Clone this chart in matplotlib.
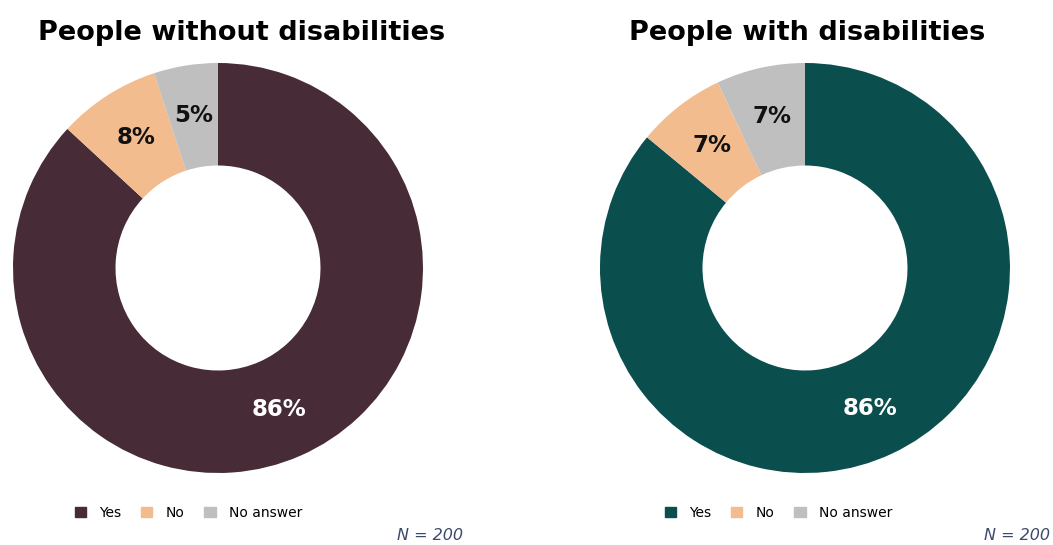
import matplotlib.pyplot as plt
import matplotlib.patches as mpatches
import numpy as np

categories = ["Yes", "No", "No answer"]
titles = ["People without disabilities", "People with disabilities"]
values_without = [86, 8, 5]
values_with = [86, 7, 7]
labels_without = ["86%", "8%", "5%"]
labels_with = ["86%", "7%", "7%"]
n_text = "N = 200"

yes_colors = ["#472B37", "#0B4E4E"]
no_color = "#F2BC8F"
na_color = "#BFBFBF"

W, H = 1053, 545
fig = plt.figure(figsize=(W / 100, H / 100), dpi=100)


def px_axes(cx, cy, r):
    # axes square around a donut centre given in pixels (y from top)
    return fig.add_axes([(cx - r) / W, (H - cy - r) / H, 2 * r / W, 2 * r / H])


def draw_donut(cx, values, labels, yes_color, title, title_x, leg_x, n_x):
    ax = px_axes(cx, 268, 205)
    cols = [yes_color, no_color, na_color]
    wedges, _ = ax.pie(values, colors=cols, startangle=90, counterclock=False,
                       radius=1.0, wedgeprops=dict(width=0.5, edgecolor="none"))
    ax.set_xlim(-1, 1)
    ax.set_ylim(-1, 1)
    ax.set_aspect("equal")
    for i, (w, lab) in enumerate(zip(wedges, labels)):
        ang = np.deg2rad((w.theta1 + w.theta2) / 2)
        x, y = 0.74 * np.cos(ang), 0.755 * np.sin(ang)
        ax.text(x, y, lab, ha="center", va="center", fontsize=16.5, fontweight="bold",
                color="white" if i == 0 else "#111111")
    fig.text(title_x / W, 1 - 33 / H, title, ha="center", va="center",
             fontsize=19.5, fontweight="bold", color="#000000")
    handles = [mpatches.Patch(color=c, label=l) for c, l in zip(cols, categories)]
    fig.legend(handles=handles, loc="center left", bbox_to_anchor=(leg_x / W, 1 - 513 / H),
               ncol=3, frameon=False, fontsize=10, handlelength=0.8, handleheight=0.8,
               handletextpad=1.0, columnspacing=1.4)
    fig.text(n_x / W, 1 - 536 / H, n_text, ha="right", va="center", fontsize=11.5,
             style="italic", color="#3B4A6B")


draw_donut(218, values_without, labels_without, yes_colors[0], titles[0], 242, 62, 463)
draw_donut(805, values_with, labels_with, yes_colors[1], titles[1], 807, 652, 1050)

fig.savefig("out.png", dpi=100, facecolor="white")
